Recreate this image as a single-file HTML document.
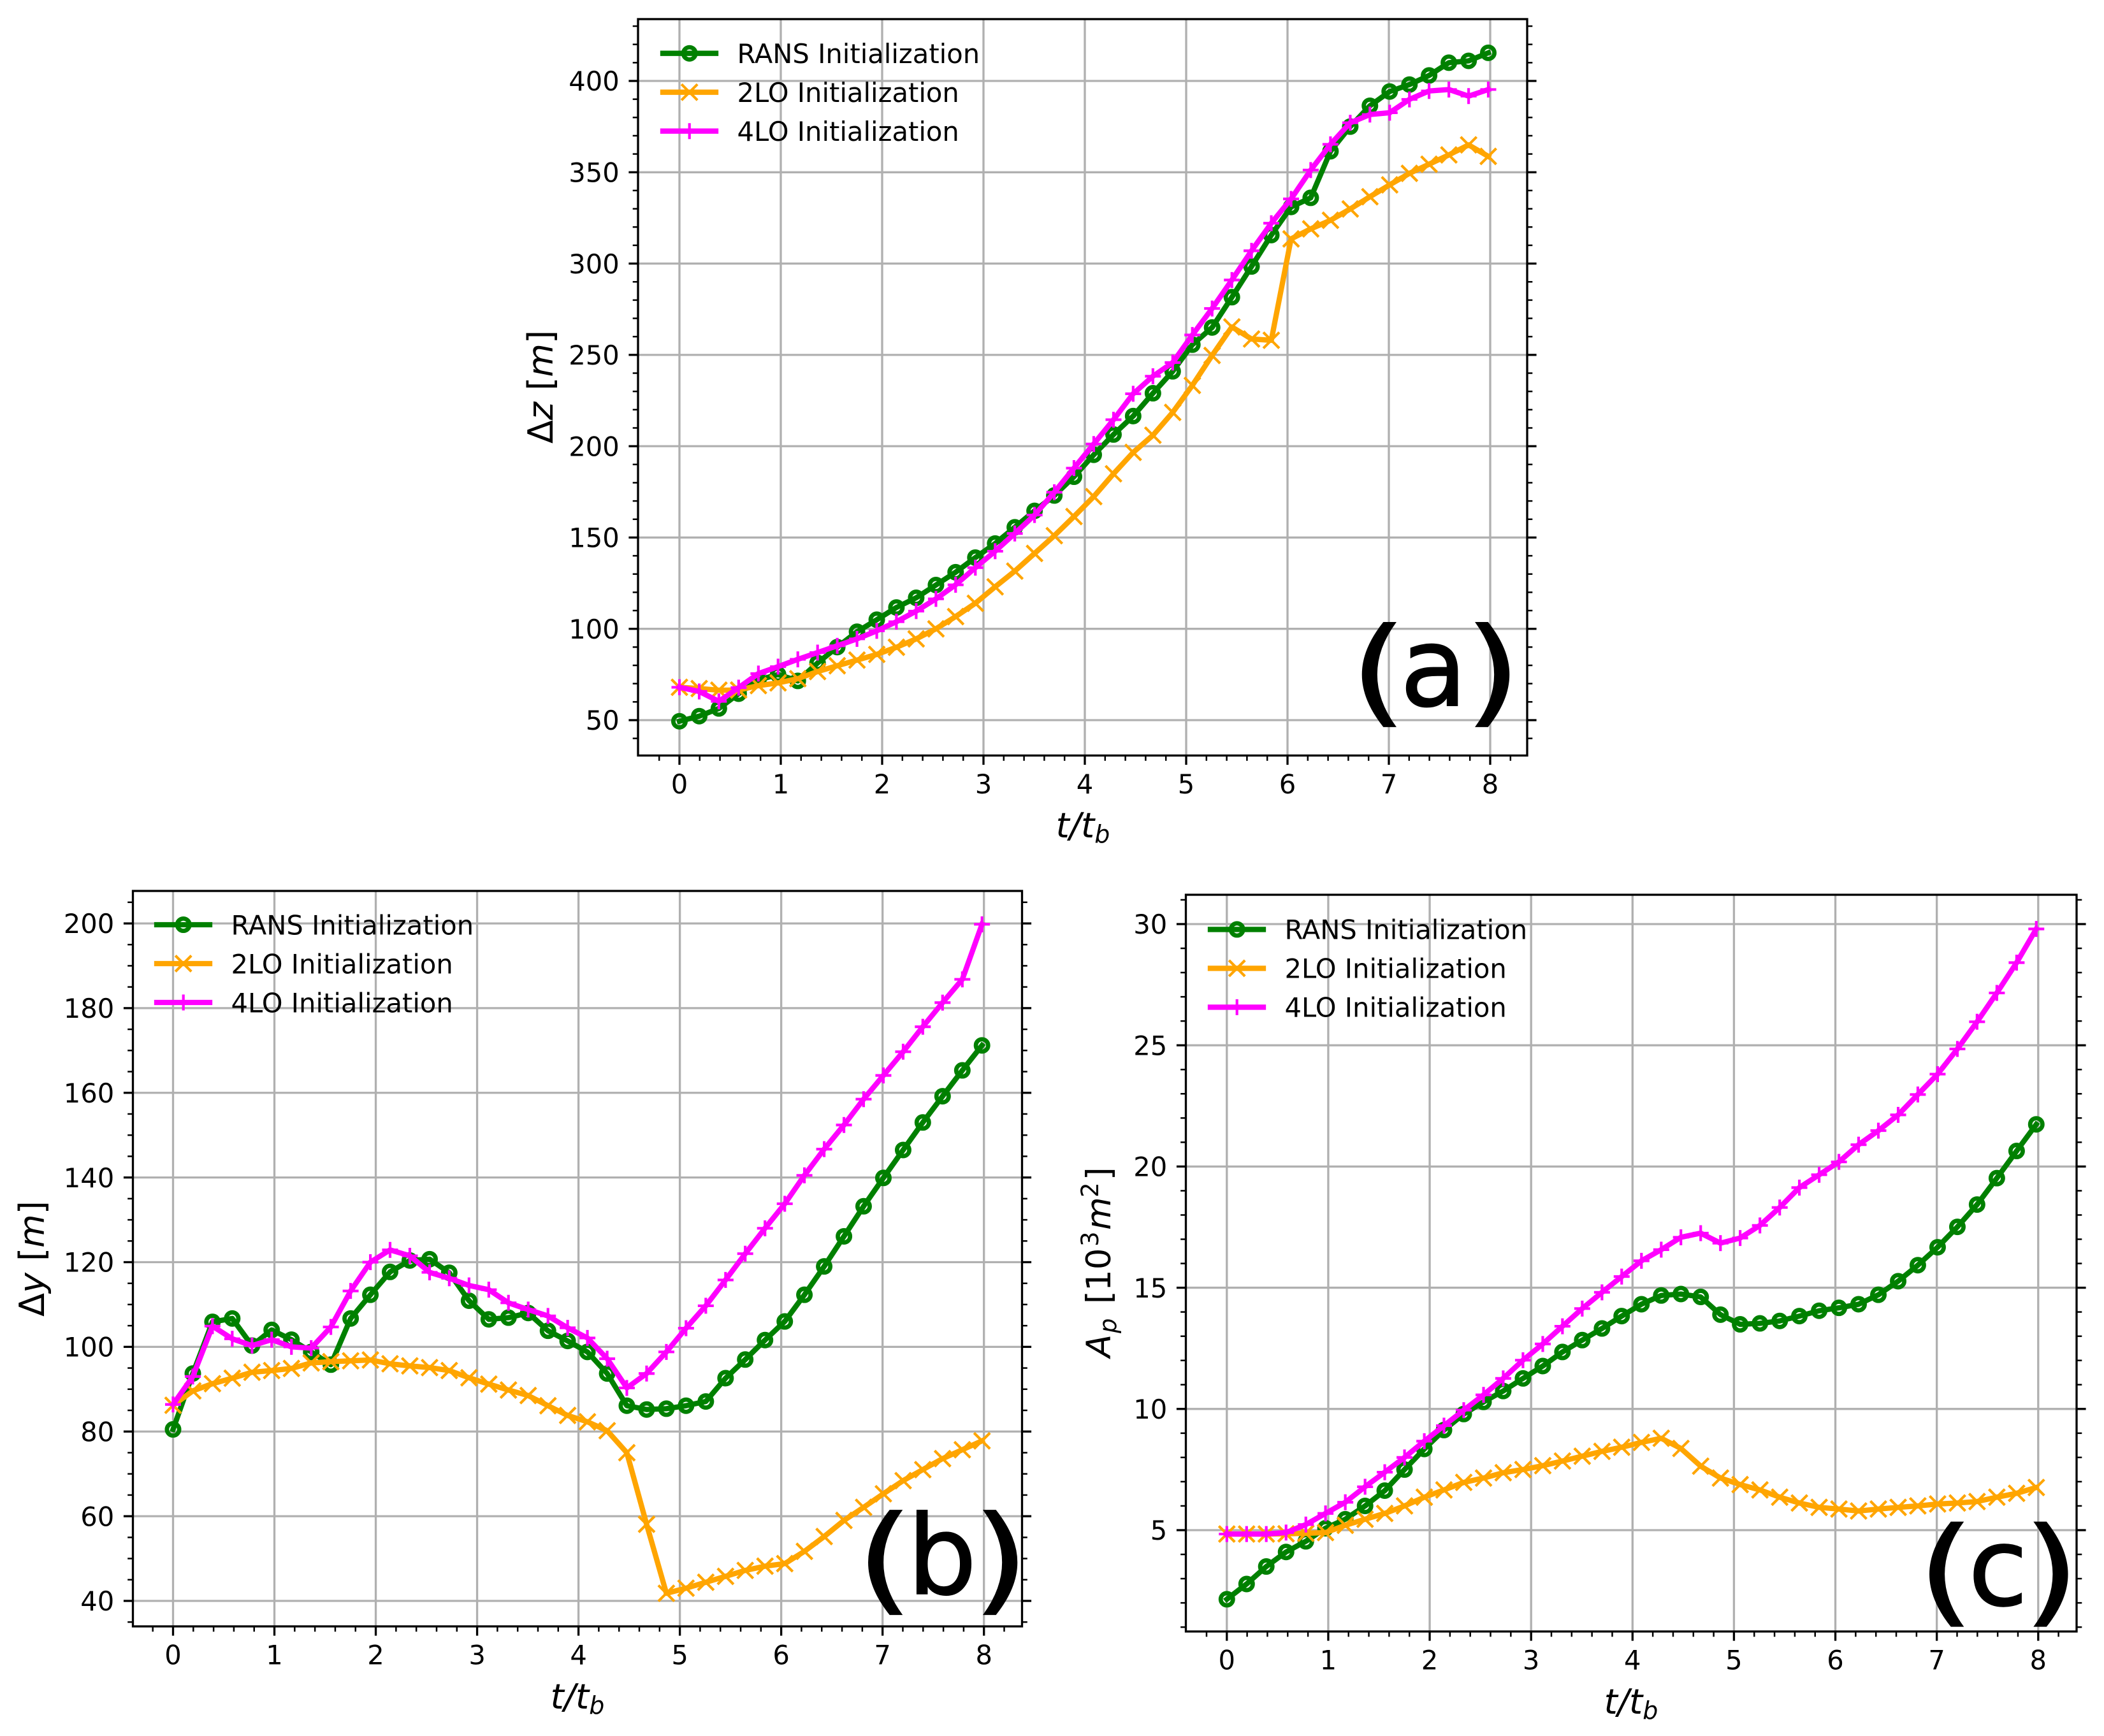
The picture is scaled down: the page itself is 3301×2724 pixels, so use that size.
<!DOCTYPE html>
<html lang="en">
<head>
<meta charset="utf-8">
<title>Plume growth initialization comparison</title>
<style>
html,body{margin:0;padding:0;background:#fff;}
svg{display:block;}
text{font-family:"DejaVu Sans","Liberation Sans",sans-serif;fill:#000;}
.it{font-style:italic;}
</style>
</head>
<body>
<svg id="figure" xmlns="http://www.w3.org/2000/svg" width="3301" height="2724" viewBox="0 0 3301 2724">
  <rect x="0" y="0" width="3301" height="2724" fill="#fff"/>
  <g id="panel-a"></g>
  <g id="panel-b"></g>
  <g id="panel-c"></g>

  <g>
    <text x="1699" y="1314" font-size="54" text-anchor="middle"><tspan class="it">t/t</tspan><tspan class="it" font-size="38" dy="8">b</tspan></text>
    <text x="906" y="2681" font-size="54" text-anchor="middle"><tspan class="it">t/t</tspan><tspan class="it" font-size="38" dy="8">b</tspan></text>
    <text x="2559" y="2689" font-size="54" text-anchor="middle"><tspan class="it">t/t</tspan><tspan class="it" font-size="38" dy="8">b</tspan></text>
    <text font-size="54" text-anchor="middle" transform="translate(867,607) rotate(-90)">Δ<tspan class="it">z</tspan><tspan dx="18">[</tspan><tspan class="it">m</tspan>]</text>
    <text font-size="54" text-anchor="middle" transform="translate(69,1975) rotate(-90)">Δ<tspan class="it">y</tspan><tspan dx="18">[</tspan><tspan class="it">m</tspan>]</text>
    <text font-size="53" transform="translate(1742,2130) rotate(-90)"><tspan class="it" x="0" y="0">A</tspan><tspan class="it" x="38" y="9.5" font-size="37">p</tspan><tspan x="84" y="0">[</tspan><tspan x="104" y="0">10</tspan><tspan x="174" y="-19" font-size="37">3</tspan><tspan class="it" x="200" y="0">m</tspan><tspan x="251" y="-19" font-size="37">2</tspan><tspan x="278" y="0">]</tspan></text>
  </g>

  <g stroke="#000" stroke-width="2">
    <text font-size="183"><tspan x="2118.5" y="1115.8" textLength="88.5" lengthAdjust="spacingAndGlyphs">(</tspan><tspan x="2196.5" y="1107" font-size="172">a</tspan><tspan x="2298" y="1115.8" textLength="88.5" lengthAdjust="spacingAndGlyphs">)</tspan></text>
    <text font-size="183"><tspan x="1343.8" y="2509" textLength="88.5" lengthAdjust="spacingAndGlyphs">(</tspan><tspan x="1423.3" y="2500.7" font-size="172">b</tspan><tspan x="1526" y="2509" textLength="88.5" lengthAdjust="spacingAndGlyphs">)</tspan></text>
    <text font-size="183"><tspan x="3008.8" y="2527.5" textLength="88.5" lengthAdjust="spacingAndGlyphs">(</tspan><tspan x="3088" y="2518.3" font-size="170">c</tspan><tspan x="3174.3" y="2527.5" textLength="88.5" lengthAdjust="spacingAndGlyphs">)</tspan></text>
  </g>
</svg>

<script>
const timeSteps = [0,0.195,0.389,0.584,0.779,0.973,1.168,1.363,1.557,1.752,1.947,2.141,2.336,2.531,2.725,2.920,3.115,3.309,3.504,3.699,3.893,4.088,4.283,4.477,4.672,4.867,5.061,5.256,5.451,5.645,5.840,6.035,6.229,6.424,6.619,6.813,7.008,7.203,7.397,7.592,7.787,7.981];

const seriesNames = ['RANS Initialization','2LO Initialization','4LO Initialization'];

const xTickLabels = [0,1,2,3,4,5,6,7,8];
const yTickLabelsA = [50,100,150,200,250,300,350,400];
const yTickLabelsB = [40,60,80,100,120,140,160,180,200];
const yTickLabelsC = [5,10,15,20,25,30];

const deltaZRans = [49.4,52.2,56.4,64.5,72,75,71.5,81.3,90,98.4,105,111.7,117,124,131,139,146.7,155.6,164.6,173,183.3,195.3,206.4,216.5,229,241,255.6,265,281.6,298.4,315.6,331,336,361.5,375,386.4,394.2,398,403,410,411,415.4];
const deltaZ2lo = [68,67.3,66.4,66.5,68.9,70.4,72.7,76.6,79.8,82.9,86,89.9,94.5,100,106.7,114,123,131.6,141.3,151,161.5,172.4,184.9,196.6,206,218.5,233.3,249.7,265.3,258.7,258,313.5,319,323.7,329.9,336.6,343.1,349.4,354.4,359.5,365,358.7];
const deltaZ4lo = [68,65.7,60.3,67.8,75.5,79.3,83.3,87,90.7,94.5,98.9,103.9,109.7,116.4,124.1,133.5,142.5,152.2,162.3,174.8,188,201.2,214.5,228.7,238.3,245.8,260.9,275.4,291,307,322.1,335.4,351.2,365.3,377.1,381.6,382.6,389.9,394.5,395.3,391.7,395.3];

const deltaYRans = [80.5,93.7,105.9,106.7,100.3,104,101.7,98.8,95.8,106.7,112.3,117.7,120.4,120.7,117.5,110.9,106.5,106.9,108,103.8,101.4,98.8,93.7,86.1,85.2,85.4,86.1,87.1,92.6,97,101.6,106,112.3,119,126.1,133.2,139.9,146.5,153,159.2,165.3,171.2];
const deltaY2lo = [86.2,89.6,91.3,92.6,94,94.4,94.9,96.2,96.5,96.7,96.9,96,95.5,95.1,94.4,92.7,91.2,89.8,88.5,86.1,83.8,82.3,80.2,75,58.1,41.8,43,44.4,45.8,47.2,48.2,48.8,51.7,55.2,59,62.1,65.3,68.4,71,73.6,75.7,77.8];
const deltaY4lo = [86.4,93,104.9,101.9,100.3,101.7,100,99.7,104.7,113.2,120,122.9,121.5,117.6,116.2,114.5,113.5,110.4,108.8,107.3,104.5,102.1,97.2,90.3,93.7,98.8,104.4,109.7,115.8,122,128,133.8,140.5,146.7,152.4,158.5,164.1,169.7,175.6,181.3,186.8,199.8];

const areaRans = [2.15,2.78,3.5,4.1,4.54,5.08,5.45,6,6.63,7.5,8.35,9.13,9.79,10.29,10.74,11.26,11.77,12.35,12.84,13.32,13.83,14.32,14.68,14.74,14.62,13.89,13.49,13.53,13.63,13.83,14.05,14.17,14.32,14.71,15.27,15.93,16.67,17.51,18.43,19.52,20.64,21.74];
const area2lo = [4.84,4.84,4.84,4.85,4.87,4.9,5.2,5.45,5.69,6,6.36,6.66,6.97,7.15,7.37,7.5,7.66,7.85,8.05,8.25,8.42,8.62,8.79,8.37,7.64,7.15,6.88,6.66,6.36,6.12,5.94,5.87,5.79,5.87,5.94,6,6.08,6.12,6.18,6.36,6.52,6.76];
const area4lo = [4.84,4.84,4.84,4.9,5.23,5.69,6.15,6.79,7.39,8,8.67,9.31,9.95,10.58,11.26,12.01,12.68,13.41,14.14,14.81,15.46,16.11,16.57,17.08,17.25,16.84,17.05,17.57,18.31,19.13,19.66,20.19,20.9,21.48,22.13,22.97,23.81,24.85,25.97,27.16,28.41,29.8];

const SVGNS = 'http://www.w3.org/2000/svg';
const MAJOR = 14.6, MINOR = 8.3, PAD = 14.6;

function make(parent, tag, attrs) {
  const el = document.createElementNS(SVGNS, tag);
  for (const k in attrs) el.setAttribute(k, attrs[k]);
  parent.appendChild(el);
  return el;
}

function linearScale(d0, d1, r0, r1) {
  return function (v) { return r0 + (v - d0) * (r1 - r0) / (d1 - d0); };
}

function drawMarker(parent, kind, cx, cy, color, name) {
  let el;
  if (kind === 'circle') {
    el = make(parent, 'circle', {cx: cx.toFixed(2), cy: cy.toFixed(2), r: 9.6, fill: 'none', stroke: color, 'stroke-width': 6.8});
  } else if (kind === 'cross') {
    const h = 12.5;
    el = make(parent, 'path', {d: 'M' + (cx - h) + ' ' + (cy - h) + 'L' + (cx + h) + ' ' + (cy + h) + 'M' + (cx - h) + ' ' + (cy + h) + 'L' + (cx + h) + ' ' + (cy - h), fill: 'none', stroke: color, 'stroke-width': 4.17});
  } else {
    const h = 12.5;
    el = make(parent, 'path', {d: 'M' + (cx - h) + ' ' + cy + 'L' + (cx + h) + ' ' + cy + 'M' + cx + ' ' + (cy - h) + 'L' + cx + ' ' + (cy + h), fill: 'none', stroke: color, 'stroke-width': 4.17});
  }
  
  
  return el;
}

const seriesStyles = [
  {color: '#008000', marker: 'circle', key: 'rans'},
  {color: '#ffa500', marker: 'cross', key: '2lo'},
  {color: '#ff00ff', marker: 'plus', key: '4lo'}
];

function drawPanel(id, geo, yTicks, seriesList) {
  const root = document.getElementById('panel-' + id);
  const xScale = linearScale(0, 8, geo.x0, geo.x8);
  const yScale = linearScale(geo.yLowValue, geo.yHighValue, geo.yLowPx, geo.yHighPx);

  const grid = make(root, 'g', {});
  
  
  xTickLabels.forEach(function (v) {
    const l = make(grid, 'line', {x1: xScale(v), x2: xScale(v), y1: geo.top, y2: geo.bottom, stroke: '#b0b0b0', 'stroke-width': 3.33});
    
    
  });
  yTicks.forEach(function (v) {
    const l = make(grid, 'line', {x1: geo.left, x2: geo.right, y1: yScale(v), y2: yScale(v), stroke: '#b0b0b0', 'stroke-width': 3.33});
    
    
  });

  seriesList.forEach(function (values, s) {
    const style = seriesStyles[s];
    const g = make(root, 'g', {});
    
    
    let d = '';
    values.forEach(function (v, i) {
      d += (i ? 'L' : 'M') + xScale(timeSteps[i]).toFixed(2) + ' ' + yScale(v).toFixed(2);
    });
    const line = make(g, 'path', {d: d, fill: 'none', stroke: style.color, 'stroke-width': 8.33, 'stroke-linejoin': 'round', 'stroke-linecap': 'square'});
    
    
    values.forEach(function (v, i) {
      drawMarker(g, style.marker, xScale(timeSteps[i]), yScale(v), style.color, 'point-' + style.key);
    });
  });

  const ticks = make(root, 'g', {stroke: '#000'});
  
  

  for (let k = -1; k <= 41; k++) {
    const v = k * 0.2;
    if (k % 5 === 0) continue;
    const t = make(ticks, 'line', {x1: xScale(v), x2: xScale(v), y1: geo.bottom, y2: geo.bottom + MINOR, 'stroke-width': 2.5});
    
    
  }
  xTickLabels.forEach(function (v) {
    const t = make(ticks, 'line', {x1: xScale(v), x2: xScale(v), y1: geo.bottom, y2: geo.bottom + MAJOR, 'stroke-width': 3.33});
    
    
    const label = make(root, 'text', {x: xScale(v), y: geo.bottom + MAJOR + PAD + 30.4, 'font-size': 41.67, 'text-anchor': 'middle'});
    label.textContent = String(v);
    
    
  });

  for (let v = geo.minorFrom; v <= geo.minorTo; v += geo.minorStep) {
    if (yTicks.indexOf(v) !== -1) continue;
    const y = yScale(v);
    const a = make(ticks, 'line', {x1: geo.left, x2: geo.left - MINOR, y1: y, y2: y, 'stroke-width': 2.5});
    
    
    const b = make(ticks, 'line', {x1: geo.right, x2: geo.right + MINOR, y1: y, y2: y, 'stroke-width': 2.5});
    
    
  }
  yTicks.forEach(function (v) {
    const y = yScale(v);
    const a = make(ticks, 'line', {x1: geo.left, x2: geo.left - MAJOR, y1: y, y2: y, 'stroke-width': 3.33});
    
    
    const b = make(ticks, 'line', {x1: geo.right, x2: geo.right + MAJOR, y1: y, y2: y, 'stroke-width': 3.33});
    
    
    const label = make(root, 'text', {x: geo.left - MAJOR - PAD, y: y + 15.2, 'font-size': 41.67, 'text-anchor': 'end'});
    label.textContent = String(v);
    
    
  });

  const frame = make(root, 'rect', {x: geo.left, y: geo.top, width: geo.right - geo.left, height: geo.bottom - geo.top, fill: 'none', stroke: '#000', 'stroke-width': 3.33});
  
  

  const legend = make(root, 'g', {});
  
  
  seriesNames.forEach(function (name, s) {
    const style = seriesStyles[s];
    const y = geo.legendY + s * 61;
    const entry = make(legend, 'g', {});
    
    
    const handle = make(entry, 'line', {x1: geo.legendX, x2: geo.legendX + 83, y1: y, y2: y, stroke: style.color, 'stroke-width': 8.33, 'stroke-linecap': 'square'});
    
    
    drawMarker(entry, style.marker, geo.legendX + 41.7, y, style.color, 'legend-marker-' + style.key);
    const text = make(entry, 'text', {x: geo.legendX + 116.5, y: y + 15.3, 'font-size': 41.67});
    text.textContent = name;
    
    
  });
}

drawPanel('a', {left: 1001, right: 2396, top: 30, bottom: 1185.5, x0: 1066, x8: 2338, yLowValue: 50, yHighValue: 400, yLowPx: 1130, yHighPx: 127, minorFrom: 40, minorTo: 430, minorStep: 10, legendX: 1040, legendY: 83.7}, yTickLabelsA, [deltaZRans, deltaZ2lo, deltaZ4lo]);
drawPanel('b', {left: 208.5, right: 1603.5, top: 1398, bottom: 2552, x0: 271.5, x8: 1543.7, yLowValue: 40, yHighValue: 200, yLowPx: 2512, yHighPx: 1449, minorFrom: 35, minorTo: 205, minorStep: 5, legendX: 246, legendY: 1451}, yTickLabelsB, [deltaYRans, deltaY2lo, deltaY4lo]);
drawPanel('c', {left: 1860.5, right: 3258, top: 1404, bottom: 2560, x0: 1924.8, x8: 3197.8, yLowValue: 5, yHighValue: 30, yLowPx: 2401, yHighPx: 1450, minorFrom: 1, minorTo: 31, minorStep: 1, legendX: 1899, legendY: 1458.4}, yTickLabelsC, [areaRans, area2lo, area4lo]);
</script>
</body>
</html>
